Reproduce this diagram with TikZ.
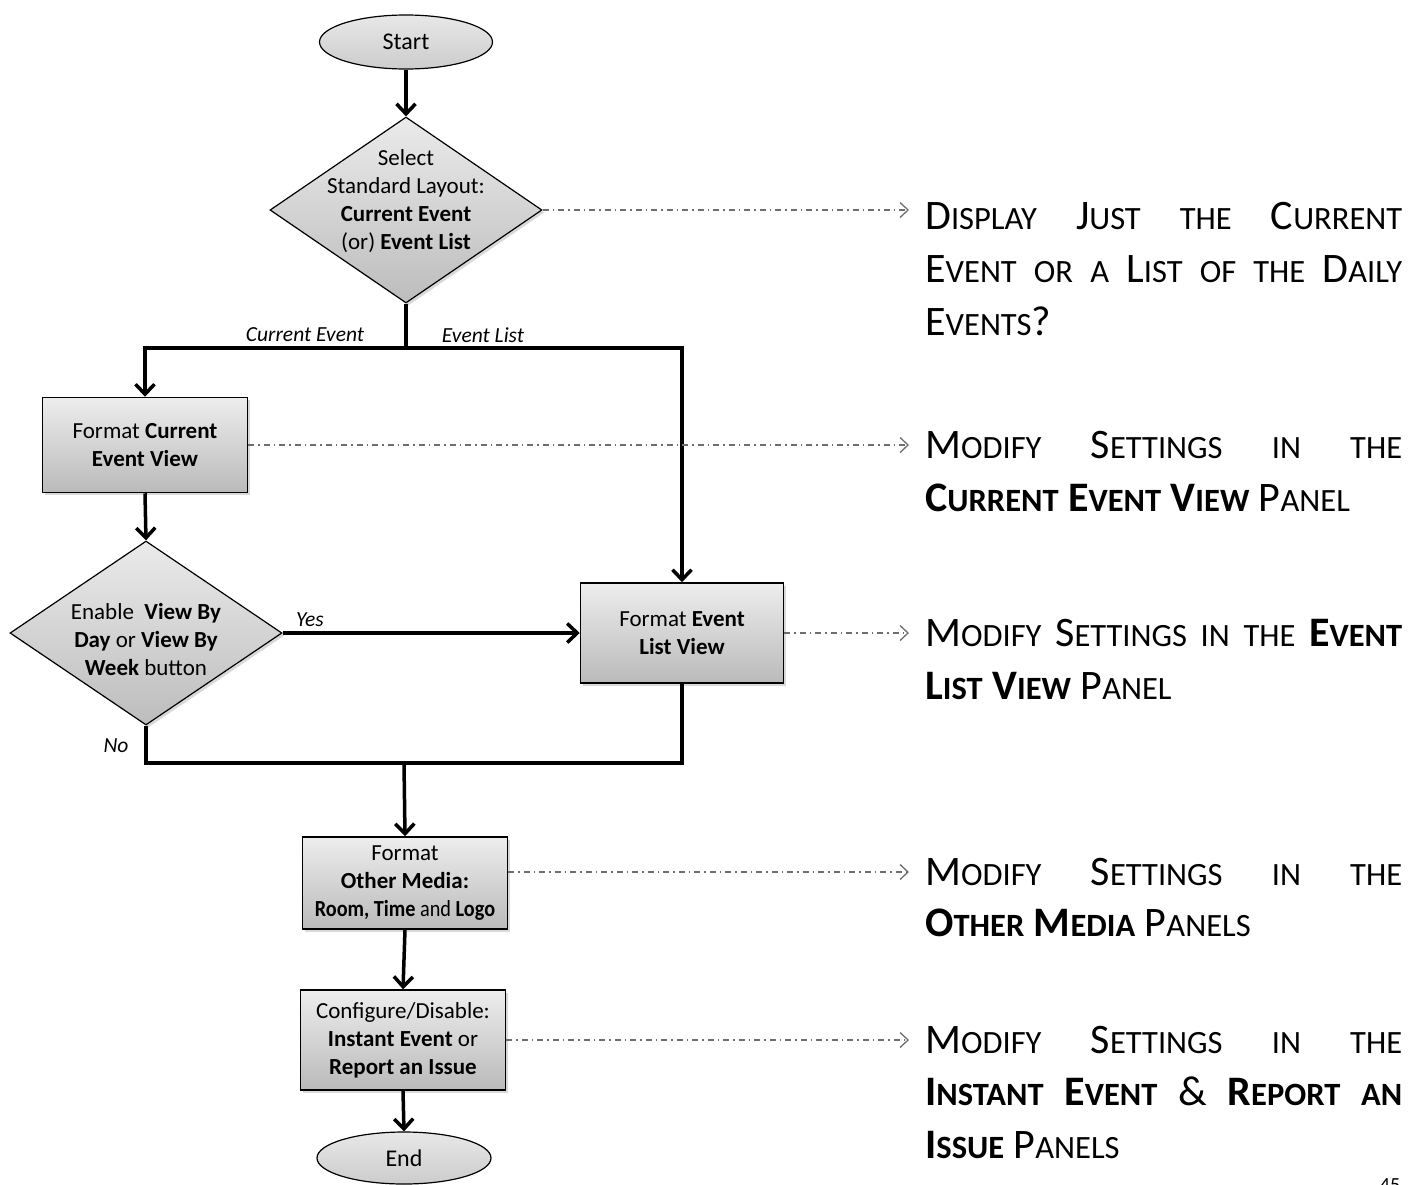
\documentclass[tikz,border=0pt]{standalone}
\usepackage{fontspec}
\usepackage{graphicx}
\setmainfont{Carlito}
\usetikzlibrary{shapes.geometric,arrows.meta,shadows}
\definecolor{dgray}{HTML}{6E6E6E}
\newcommand\flowfont{\fontsize{23}{28}\selectfont}
\newcommand\Bg{\fontsize{42}{53}\selectfont}
\newcommand\Sm{\fontsize{32.5}{53}\selectfont}
\newcommand\sct[2]{{\Bg #1}{\Sm #2}}
\newcommand\sml[1]{{\Sm #1}}
\begin{document}
\begin{tikzpicture}[x=1pt,y=-1pt,
  font=\flowfont,
  shad/.style={drop shadow={shadow xshift=2.5pt,shadow yshift=-2.5pt,opacity=0.3}},
  boxnode/.style={rectangle,draw=black,line width=1.5pt,top color=black!7,bottom color=black!27,
    align=center,inner sep=0pt,shad},
  dia/.style={diamond,draw=black,line width=1.2pt,top color=black!8,bottom color=black!26,
    inner sep=0pt,shad},
  term/.style={ellipse,draw=black,line width=1.2pt,top color=black!9,bottom color=black!20,inner sep=0pt,
    font=\fontsize{24}{28}\selectfont},
  flow/.style={line width=3.5pt,draw=black},
  arr/.style={flow,-{Straight Barb[length=10pt,width=19pt]}},
  note/.style={draw=dgray,line width=1.3pt,dash pattern=on 6pt off 4pt on 1.5pt off 4pt,
    -{Straight Barb[length=8pt,width=15pt]}},
  lbl/.style={font=\fontsize{21.5}{24}\selectfont\itshape,inner sep=0pt},
  rt/.style={font=\Bg,inner sep=0pt,anchor=base west},
  dtext/.style={align=center,inner sep=0pt}]
\useasboundingbox (0,0) rectangle (1422,1184);

% terminals
\node[term,minimum width=173pt,minimum height=54pt] (start) at (406,42) {Start};
\node[term,minimum width=174pt,minimum height=52pt] (end) at (404,1158) {End};

% decisions
\node[dia,minimum width=272pt,minimum height=186pt] (d1) at (406,210) {};
\node[dtext] (d1t) at (406,201) {Select\\Standard Layout:\\\textbf{Current Event}\\(or) \textbf{Event List}};
\node[dia,minimum width=272pt,minimum height=184pt] (d2) at (146,633) {};
\node[dtext] (d2t) at (146,640) {Enable \ \textbf{View By}\\\textbf{Day} or \textbf{View By}\\\textbf{Week} button};

% process boxes
\node[boxnode,minimum width=205pt,minimum height=95pt] (b1) at (145,445) {Format \textbf{Current}\\\textbf{Event View}};
\node[boxnode,minimum width=203pt,minimum height=100pt] (b2) at (682,633) {Format \textbf{Event}\\\textbf{List View}};
\node[boxnode,minimum width=205pt,minimum height=92pt] (b3) at (405,883) {Format\\\textbf{Other Media:}\\\scalebox{0.88}[1]{\textbf{Room, Time} and \textbf{Logo}}};
\node[boxnode,minimum width=205pt,minimum height=100pt] (b4) at (403,1040) {Configure/Disable:\\\textbf{Instant Event} or\\\textbf{Report an Issue}};

% flow connectors
\coordinate (split) at (406,348);
\coordinate (merge) at (404,763);
\draw[arr] (start) -- (d1.north);
\draw[flow] (d1.south) -- (split);
\draw[arr] (split) -| (b1.north);
\draw[arr] (split) -| (b2.north);
\draw[arr] (b1.south) -- (d2.north);
\draw[arr] (d2.east) -- (b2.west);
\draw[flow] (d2.south) |- (merge);
\draw[flow] (b2.south) |- (merge);
\draw[arr] (merge) -- (b3.north);
\draw[arr] (b3.south) -- (b4.north);
\draw[arr] (b4.south) -- (end.north);

% labels
\node[lbl] (lce) at (305,335) {Current Event};
\node[lbl] (lel) at (483,335) {Event List};
\node[lbl] (lyes) at (310,620) {Yes};
\node[lbl] (lno) at (116,746) {No};

% dash-dot notes
\coordinate (gx) at (909,0);
\coordinate (b3o) at ([yshift=11pt]b3.east);
\draw[note] (d1.east) -- (d1.east -| gx);
\draw[note] (b1.east) -- (b1.east -| gx);
\draw[note] (b2.east) -- (b2.east -| gx);
\draw[note] (b3o) -- (b3o -| gx);
\draw[note] (b4.east) -- (b4.east -| gx);

% right-hand text
\node[rt] (r1a) at (925,229) {\makebox[477pt][s]{\sct{D}{ISPLAY}\hfill\sct{J}{UST}\hfill\sml{THE}\hfill\sct{C}{URRENT}}};
\node[rt] (r1b) at (925,282) {\makebox[477pt][s]{\sct{E}{VENT}\hfill\sml{OR}\hfill\sml{A}\hfill\sct{L}{IST}\hfill\sml{OF}\hfill\sml{THE}\hfill\sct{D}{AILY}}};
\node[rt] (r1c) at (925,335) {\sct{E}{VENTS}?};

\node[rt] (r2a) at (925,458) {\makebox[477pt][s]{\sct{M}{ODIFY}\hfill\sct{S}{ETTINGS}\hfill\sml{IN}\hfill\sml{THE}}};
\node[rt] (r2b) at (925,511) {\textbf{\sct{C}{URRENT} \sct{E}{VENT} \sct{V}{IEW}} \sct{P}{ANEL}};

\node[rt] (r3a) at (925,646) {\makebox[477pt][s]{\sct{M}{ODIFY}\hfill\sct{S}{ETTINGS}\hfill\sml{IN}\hfill\sml{THE}\hfill\textbf{\sct{E}{VENT}}}};
\node[rt] (r3b) at (925,699) {\textbf{\sct{L}{IST} \sct{V}{IEW}} \sct{P}{ANEL}};

\node[rt] (r4a) at (925,885) {\makebox[477pt][s]{\sct{M}{ODIFY}\hfill\sct{S}{ETTINGS}\hfill\sml{IN}\hfill\sml{THE}}};
\node[rt] (r4b) at (925,936) {\textbf{\sct{O}{THER} \sct{M}{EDIA}} \sct{P}{ANELS}};

\node[rt] (r5a) at (925,1053) {\makebox[477pt][s]{\sct{M}{ODIFY}\hfill\sct{S}{ETTINGS}\hfill\sml{IN}\hfill\sml{THE}}};
\node[rt] (r5b) at (925,1105) {\makebox[477pt][s]{\textbf{\sct{I}{NSTANT}}\hfill\textbf{\sct{E}{VENT}}\hfill\&\hfill\textbf{\sct{R}{EPORT}}\hfill\textbf{\sml{AN}}}};
\node[rt] (r5c) at (925,1158) {\textbf{\sct{I}{SSUE}} \sct{P}{ANELS}};

% page number (cut by page edge, as in the source)
\node[font=\fontsize{20}{24}\selectfont,anchor=base,inner sep=0pt] (pg) at (1390,1191) {45};
\end{tikzpicture}
\end{document}
